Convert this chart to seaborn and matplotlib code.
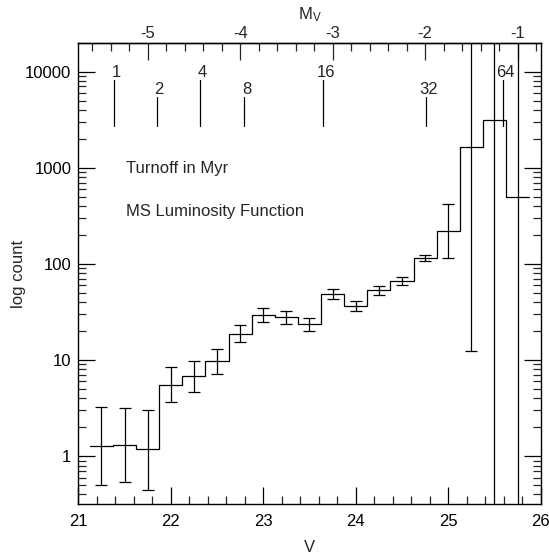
import numpy as np
import pandas as pd
import matplotlib
matplotlib.use("Agg")
import matplotlib.pyplot as plt
import matplotlib.ticker as mticker
import matplotlib.transforms as mtransforms
import seaborn as sns

# ---------------- data ----------------
bin_centers = [21.25, 21.50, 21.75, 22.00, 22.25, 22.50, 22.75, 23.00, 23.25, 23.50,
               23.75, 24.00, 24.25, 24.50, 24.75, 25.00, 25.25, 25.50, 25.75]
counts = [1.28, 1.32, 1.19, 5.55, 6.8, 9.7, 18.8, 29.5, 27.9, 23.6,
          48.4, 36.3, 54.0, 67.0, 114.0, 221.0, 1640.0, 3160.0, 500.0]
err_low = [0.50, 0.54, 0.45, 3.64, 4.7, 7.18, 15.3, 24.9, 23.6, 19.9,
           43.0, 32.2, 48.0, 60.5, 106.0, 115.0, 12.5, 0.01, 0.01]
err_high = [3.25, 3.2, 3.0, 8.46, 9.8, 13.1, 23.2, 34.6, 32.4, 27.6,
            55.0, 41.5, 59.5, 72.7, 124.0, 424.0, 60000.0, 60000.0, 60000.0]
bin_width = 0.25

turnoff_ages = ["1", "2", "4", "8", "16", "32", "64"]
turnoff_V = [21.381, 21.849, 22.316, 22.794, 23.651, 24.763, 25.594]

distance_modulus = 26.75
x_ticks = [21, 22, 23, 24, 25, 26]
y_ticks = [1, 10, 100, 1000, 10000]
y_tick_labels = ["1", "10", "100", "1000", "10000"]
mv_ticks = [-5, -4, -3, -2, -1]

df = pd.DataFrame({"V": bin_centers, "count": counts})
edges = [c - bin_width / 2 for c in bin_centers] + [bin_centers[-1] + bin_width / 2]

# ---------------- style ----------------
sns.set_theme(style="ticks")
plt.rcParams["font.family"] = ["Liberation Sans", "DejaVu Sans"]
plt.rcParams["mathtext.fontset"] = "custom"
plt.rcParams["mathtext.rm"] = "Liberation Sans"
plt.rcParams["mathtext.it"] = "Liberation Sans"
FS = 12

fig = plt.figure(figsize=(5.49, 5.54), dpi=100)
ax = fig.add_axes([0.1426, 0.0897, 0.8423, 0.8332])

sns.histplot(data=df, x="V", weights="count", bins=edges, element="step",
             fill=False, color="black", linewidth=0.9, ax=ax)
ax.set_yscale("log")

yerr = np.array([np.array(counts) - np.array(err_low), np.array(err_high) - np.array(counts)])
ax.errorbar(bin_centers, counts, yerr=yerr, fmt="none", ecolor="black",
            elinewidth=0.9, capsize=4.0, capthick=0.9)

ax.set_xlim(21, 26)
ax.set_ylim(10 ** -0.5, 10 ** 4.3)

# turnoff markers
trans = mtransforms.blended_transform_factory(ax.transData, ax.transAxes)
for i, (lab, v) in enumerate(zip(turnoff_ages, turnoff_V)):
    top = 0.9185 if i % 2 == 0 else 0.8817
    ax.plot([v, v], [0.8196, top], color="black", lw=0.9, transform=trans)
    base = 0.925 if i % 2 == 0 else 0.888
    ax.annotate(lab, xy=(v, base), xycoords=trans, xytext=(1.8, 0),
                textcoords="offset points", ha="center", va="baseline", fontsize=FS)

ax.text(0.103, 0.7184, "Turnoff in Myr", transform=ax.transAxes, fontsize=FS, va="baseline")
ax.text(0.103, 0.6246, "MS Luminosity Function", transform=ax.transAxes, fontsize=FS, va="baseline")

# axes formatting
ax.xaxis.set_major_locator(mticker.FixedLocator(x_ticks))
ax.xaxis.set_minor_locator(mticker.MultipleLocator(0.2))
ax.xaxis.set_major_formatter(mticker.FormatStrFormatter("%d"))
ax.yaxis.set_major_locator(mticker.FixedLocator(y_ticks))
ax.yaxis.set_major_formatter(mticker.FixedFormatter(y_tick_labels))
ax.yaxis.set_minor_locator(mticker.LogLocator(base=10, subs=np.arange(2, 10), numticks=20))
ax.yaxis.set_minor_formatter(mticker.NullFormatter())

ax.tick_params(axis="both", which="major", direction="in", length=12, width=0.9,
               labelsize=FS, colors="black")
ax.tick_params(axis="both", which="minor", direction="in", length=6, width=0.9)
ax.tick_params(axis="y", which="both", left=True, right=True)
ax.tick_params(axis="x", which="both", top=False, bottom=True)
ax.tick_params(axis="x", which="major", pad=7)
ax.tick_params(axis="y", which="major", pad=5)

for s in ax.spines.values():
    s.set_visible(True)
    s.set_linewidth(1.0)
    s.set_color("black")

ax.set_xlabel("V", fontsize=FS, labelpad=8)
ax.set_ylabel("log count", fontsize=FS, labelpad=-1)

sec = ax.secondary_xaxis("top", functions=(lambda v: v - distance_modulus,
                                           lambda m: m + distance_modulus))
sec.xaxis.set_major_locator(mticker.FixedLocator(mv_ticks))
sec.xaxis.set_minor_locator(mticker.MultipleLocator(0.2))
sec.xaxis.set_major_formatter(mticker.FormatStrFormatter("%d"))
sec.tick_params(which="major", direction="in", length=12, width=0.9, labelsize=FS, pad=1)
sec.tick_params(which="minor", direction="in", length=6, width=0.9)
sec.spines["top"].set_linewidth(1.0)
sec.set_xlabel(r"M$_{\rm V}$", fontsize=FS, labelpad=5)

fig.savefig("out.png", dpi=100)
